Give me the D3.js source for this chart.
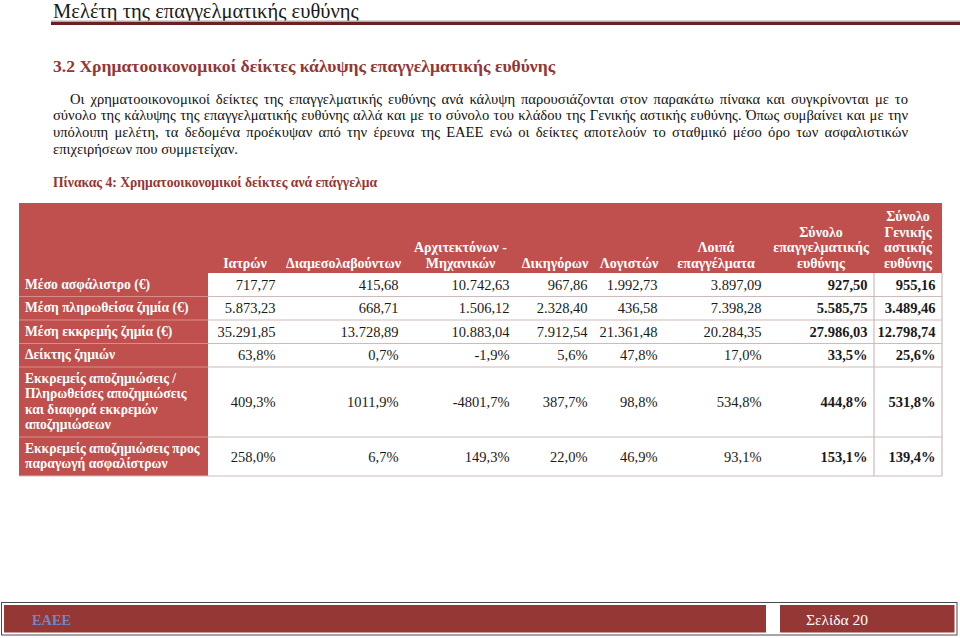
<!DOCTYPE html>
<html><head><meta charset="utf-8">
<script src="https://cdn.jsdelivr.net/npm/d3@7"></script>
<style>body{margin:0;background:#fff}svg{display:block}</style>
</head><body><svg id="c" width="960" height="638"></svg>
<script>
// ---------- content ----------
const pageTitle = "Μελέτη της επαγγελματικής ευθύνης";
const sectionTitle = "3.2 Χρηματοοικονομικοί δείκτες κάλυψης επαγγελματικής ευθύνης";
const paragraphLines = [
  "Οι χρηματοοικονομικοί δείκτες της επαγγελματικής ευθύνης ανά κάλυψη παρουσιάζονται στον παρακάτω πίνακα και συγκρίνονται με το",
  "σύνολο της κάλυψης της επαγγελματικής ευθύνης αλλά και με το σύνολο του κλάδου της Γενικής αστικής ευθύνης. Όπως συμβαίνει και με την",
  "υπόλοιπη μελέτη, τα δεδομένα προέκυψαν από την έρευνα της ΕΑΕΕ ενώ οι δείκτες αποτελούν το σταθμικό μέσο όρο των ασφαλιστικών",
  "επιχειρήσεων που συμμετείχαν."
];
const tableCaption = "Πίνακας 4: Χρηματοοικονομικοί δείκτες ανά επάγγελμα";
const columns = ["Ιατρών", "Διαμεσολαβούντων", "Αρχιτεκτόνων -|Μηχανικών", "Δικηγόρων", "Λογιστών",
  "Λοιπά|επαγγέλματα", "Σύνολο|επαγγελματικής|ευθύνης", "Σύνολο|Γενικής|αστικής|ευθύνης"];
const rowLabels = ["Μέσο ασφάλιστρο (€)", "Μέση πληρωθείσα ζημία (€)", "Μέση εκκρεμής ζημία (€)", "Δείκτης ζημιών",
  "Εκκρεμείς αποζημιώσεις /|Πληρωθείσες αποζημιώσεις|και διαφορά εκκρεμών|αποζημιώσεων",
  "Εκκρεμείς αποζημιώσεις προς|παραγωγή ασφαλίστρων"];
const rowKinds = ["money", "money", "money", "pct", "pct", "pct"];
const avgPremium = [717.77, 415.68, 10742.63, 967.86, 1992.73, 3897.09, 927.50, 955.16];
const avgPaidClaim = [5873.23, 668.71, 1506.12, 2328.40, 436.58, 7398.28, 5585.75, 3489.46];
const avgOutstandingClaim = [35291.85, 13728.89, 10883.04, 7912.54, 21361.48, 20284.35, 27986.03, 12798.74];
const lossRatio = [63.8, 0.7, -1.9, 5.6, 47.8, 17.0, 33.5, 25.6];
const outstandingToPaid = [409.3, 1011.9, -4801.7, 387.7, 98.8, 534.8, 444.8, 531.8];
const outstandingToPremium = [258.0, 6.7, 149.3, 22.0, 46.9, 93.1, 153.1, 139.4];
const boldColumns = [6, 7];
const footerLeft = "ΕΑΕΕ";
const footerRight = "Σελίδα 20";

// ---------- setup ----------
const svg = d3.select("#c");
const serif = "'Liberation Serif','Times New Roman',serif";
const darkRed = "#943634", tableRed = "#c0504d";
const loc = d3.formatLocale({decimal: ",", thousands: ".", grouping: [3], currency: ["", "€"], minus: "-"});
const fmtMoney = loc.format(",.2f"), fmtPct = loc.format(".1f");
const series = [avgPremium, avgPaidClaim, avgOutstandingClaim, lossRatio, outstandingToPaid, outstandingToPremium];

// ---------- header ----------
svg.append("text").attr("x", 53).attr("y", 18).attr("font-family", serif).attr("font-size", 20.6)
  .attr("fill", "#1a1a1a").text(pageTitle);
svg.append("rect").attr("x", 51).attr("y", 20.5).attr("width", 909).attr("height", 1.5).attr("fill", "#b9a9a9");
svg.append("rect").attr("x", 51).attr("y", 22).attr("width", 909).attr("height", 3).attr("fill", "#6b2121");

svg.append("text").attr("x", 53).attr("y", 72).attr("font-family", serif).attr("font-size", 17.6)
  .attr("font-weight", "bold").attr("fill", darkRed).text(sectionTitle);

// justified paragraph
function justifyLine(line, x0, x1, y, last) {
  const g = svg.append("g");
  const words = line.split(" ");
  const ts = g.selectAll("text").data(words).join("text")
    .attr("y", y).attr("font-family", serif).attr("font-size", 14.6).attr("fill", "#111").text(d => d);
  const widths = ts.nodes().map(n => n.getComputedTextLength());
  const sum = d3.sum(widths);
  const gap = last ? 3.6 : (x1 - x0 - sum) / (words.length - 1);
  let x = x0;
  ts.each(function (d, i) { d3.select(this).attr("x", x); x += widths[i] + gap; });
}
const lineY = d3.scalePoint().domain(d3.range(paragraphLines.length)).range([103.5, 153.5]);
paragraphLines.forEach((l, i) => justifyLine(l, i === 0 ? 70 : 53, 908, lineY(i), i === paragraphLines.length - 1));

svg.append("text").attr("x", 53).attr("y", 187).attr("font-family", serif).attr("font-size", 13.8)
  .attr("font-weight", "bold").attr("fill", darkRed)
  .attr("textLength", 324).attr("lengthAdjust", "spacingAndGlyphs").text(tableCaption);

// ---------- table ----------
const colWidths = [74, 123, 111, 78, 70, 104, 106, 68];
const tableLeft = 19, labelRight = 208, tableTop = 203;
const colLeft = d3.scaleOrdinal().domain(columns)
  .range(colWidths.map((w, i) => labelRight + d3.sum(colWidths.slice(0, i))));
const colW = d3.scaleOrdinal().domain(columns).range(colWidths);
const tableRight = labelRight + d3.sum(colWidths);
const lineH = 15.5, rowPad = 8;
const headerH = rowPad + lineH * d3.max(columns, c => c.split("|").length);
const rowHs = rowLabels.map(r => rowPad + lineH * r.split("|").length);
const rowTop = d3.scaleOrdinal().domain(rowLabels)
  .range(rowHs.map((h, i) => tableTop + headerH + d3.sum(rowHs.slice(0, i))));
const rowH = d3.scaleOrdinal().domain(rowLabels).range(rowHs);
const tableBottom = tableTop + headerH + d3.sum(rowHs);

// backgrounds
svg.append("rect").attr("x", tableLeft).attr("y", tableTop).attr("width", tableRight - tableLeft)
  .attr("height", headerH).attr("fill", tableRed);
svg.append("rect").attr("x", tableLeft).attr("y", tableTop + headerH).attr("width", labelRight - tableLeft)
  .attr("height", tableBottom - tableTop - headerH).attr("fill", tableRed);

// row separators
rowLabels.forEach((r, i) => {
  const y = rowTop(r) + rowH(r);
  svg.append("line").attr("x1", labelRight).attr("x2", tableRight).attr("y1", y).attr("y2", y)
    .attr("stroke", "#cdbaba").attr("stroke-width", 1.2);
  if (i < rowLabels.length - 1)
    svg.append("line").attr("x1", tableLeft).attr("x2", labelRight).attr("y1", y).attr("y2", y)
      .attr("stroke", "#d98c8a").attr("stroke-width", 1);
});
svg.append("line").attr("x1", tableLeft).attr("x2", labelRight).attr("y1", tableBottom).attr("y2", tableBottom)
  .attr("stroke", "#cdbaba").attr("stroke-width", 1.2);
[colLeft(columns[7]), tableRight].forEach(x => {
  svg.append("line").attr("x1", x).attr("x2", x).attr("y1", tableTop + headerH).attr("y2", tableBottom)
    .attr("stroke", "#cdbaba").attr("stroke-width", 1.2);
});

// header labels
columns.forEach(c => {
  const parts = c.split("|");
  const cx = colLeft(c) + colW(c) / 2;
  const t = svg.append("text").attr("font-family", serif).attr("font-size", 14).attr("font-weight", "bold")
    .attr("fill", "#fff").attr("text-anchor", "middle");
  parts.forEach((p, i) => {
    t.append("tspan").attr("x", cx).attr("y", tableTop + headerH - 5.5 - lineH * (parts.length - 1 - i)).text(p);
  });
});

// row labels and values
rowLabels.forEach((r, ri) => {
  const parts = r.split("|");
  const top = rowTop(r), h = rowH(r);
  const t = svg.append("text").attr("font-family", serif).attr("font-size", 13.6).attr("font-weight", "bold")
    .attr("fill", "#fff");
  parts.forEach((p, i) => t.append("tspan").attr("x", 25).attr("y", top + 15.5 + lineH * i).text(p));
  const fmt = rowKinds[ri] === "money" ? fmtMoney : (v => fmtPct(v) + "%");
  svg.append("g").selectAll("text").data(series[ri]).join("text")
    .attr("x", (d, ci) => colLeft(columns[ci]) + colW(columns[ci]) - 6.5)
    .attr("y", top + h / 2 + 5)
    .attr("text-anchor", "end").attr("font-family", serif).attr("font-size", 14.5)
    .attr("font-weight", (d, ci) => boldColumns.includes(ci) ? "bold" : "normal")
    .attr("fill", "#1a1a1a").text(d => fmt(d));
});

// ---------- footer ----------
svg.append("rect").attr("x", 1.5).attr("y", 602.5).attr("width", 955.5).attr("height", 32.5)
  .attr("fill", "#fff").attr("stroke", "#4a4a4a").attr("stroke-width", 1);
svg.append("rect").attr("x", 4).attr("y", 605).attr("width", 762).attr("height", 27.5).attr("fill", "#953735");
svg.append("rect").attr("x", 780).attr("y", 605).attr("width", 174.5).attr("height", 27.5).attr("fill", "#953735");
svg.append("text").attr("x", 32).attr("y", 624.5).attr("font-family", serif).attr("font-size", 15.5)
  .attr("font-weight", "bold").attr("fill", "#6f86c8")
  .attr("textLength", 39).attr("lengthAdjust", "spacingAndGlyphs").text(footerLeft);
svg.append("text").attr("x", 806).attr("y", 624.5).attr("font-family", serif).attr("font-size", 15.5)
  .attr("fill", "#fff").text(footerRight);
</script></body></html>
